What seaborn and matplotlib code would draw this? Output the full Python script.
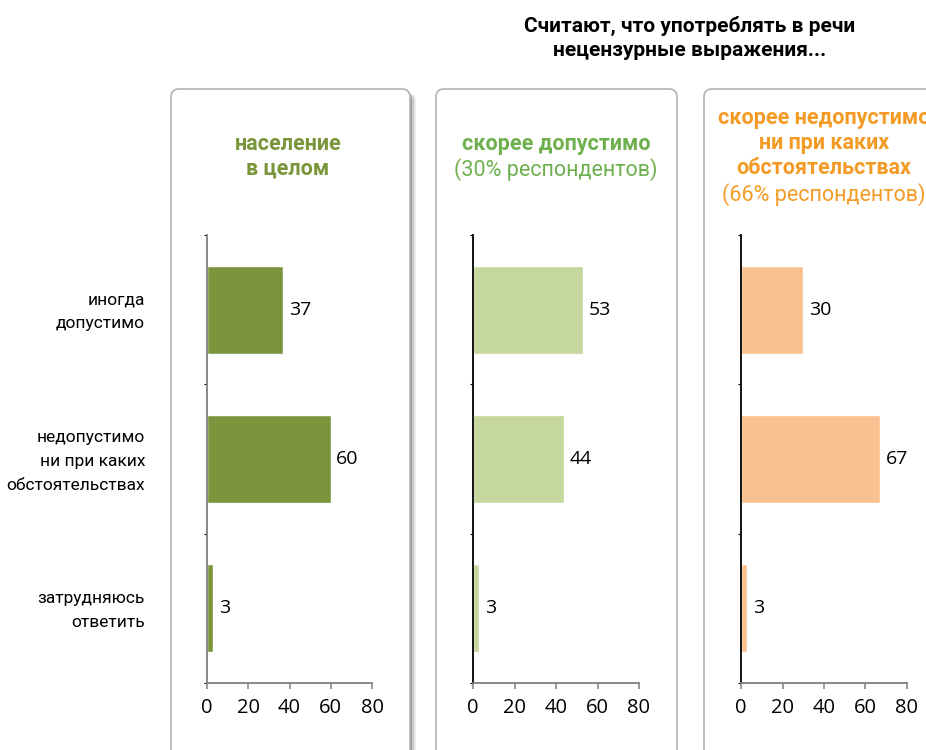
import matplotlib.pyplot as plt
import matplotlib.ticker as tck
from matplotlib.patches import FancyBboxPatch
import pandas as pd
import seaborn as sns

CATEGORIES = ["иногда\nдопустимо",
              "недопустимо\nни при каких\nобстоятельствах",
              "затрудняюсь\nответить"]
TOTAL = [37, 60, 3]
ACCEPTABLE = [53, 44, 3]
UNACCEPTABLE = [30, 67, 3]

GROUPS = ["население в целом", "скорее допустимо", "скорее недопустимо"]
BAR_COLORS = ["#7a953c", "#c5d79c", "#f9c190"]
TITLE_COLORS = ["#7a963b", "#6fb04e", "#f49b25"]

MAIN_TITLE = "Считают, что употреблять в речи\nнецензурные выражения..."

W, H = 926, 750
FONTS = ["Roboto", "DejaVu Sans"]
NUM_FONTS = ["Open Sans", "DejaVu Sans"]

sns.set_theme(style="white")
plt.rcParams["font.family"] = FONTS
plt.rcParams["text.color"] = "black"
plt.rcParams["xtick.color"] = "black"
plt.rcParams["ytick.color"] = "black"


def inch(x, y):
    # pixel coordinates from the top-left corner -> inches from bottom-left
    return x / 100, (H - y) / 100


def add_panel(fig, x0, x1, y0, y1, shadow=False):
    xa, ya = inch(x0, y1)
    w, h = (x1 - x0) / 100, (y1 - y0) / 100
    if shadow:
        for i, a in enumerate([0.08, 0.14, 0.22]):
            off = (3 - i) * 0.02
            fig.patches.append(FancyBboxPatch(
                (xa + off, ya), w, h - 0.04, boxstyle="round,pad=0,rounding_size=0.08",
                transform=fig.dpi_scale_trans, facecolor="black", alpha=a,
                edgecolor="none", zorder=0))
    fig.patches.append(FancyBboxPatch(
        (xa, ya), w, h, boxstyle="round,pad=0,rounding_size=0.08",
        transform=fig.dpi_scale_trans, facecolor="white",
        edgecolor="#b4b4b4", linewidth=1.2, zorder=0.5))


def draw_bars(ax, df, color, left_spine, show_labels):
    sns.barplot(data=df, x="value", y="category", color=color, width=0.59,
                saturation=1, ax=ax, orient="h")
    ax.bar_label(ax.containers[0], padding=4, fontsize=14, family=NUM_FONTS)
    ax.set_xlim(0, 80)
    ax.xaxis.set_major_locator(tck.MultipleLocator(20))
    ax.set_facecolor("none")
    ax.set_xlabel("")
    ax.set_ylabel("")
    sns.despine(ax=ax)
    ax.spines["left"].set_color(left_spine)
    ax.spines["left"].set_linewidth(1.3)
    ax.spines["bottom"].set_color("#808080")
    ax.spines["bottom"].set_linewidth(1.3)
    ax.tick_params(axis="x", direction="out", length=4, width=1.1,
                   color="#808080", labelsize=14.5, pad=7, bottom=True)
    for lab in ax.get_xticklabels():
        lab.set_family(NUM_FONTS)
    ax.set_yticks([-0.5, 0.5, 1.5, 2.5], minor=True)
    ax.tick_params(axis="y", which="minor", direction="out", length=2,
                   width=0.8, color="black", left=True)
    ax.tick_params(axis="y", which="major", length=0, labelleft=False)
    if show_labels:
        # category names sit 62 px left of the axis, right-aligned
        for i, name in enumerate(CATEGORIES):
            ax.annotate(name, xy=(0, i), xycoords=("axes fraction", "data"),
                        xytext=(-44.6, -1.5), textcoords="offset points",
                        ha="right", va="center", fontsize=12.5,
                        linespacing=1.75, multialignment="right")


df = pd.DataFrame({
    "category": CATEGORIES * 3,
    "value": TOTAL + ACCEPTABLE + UNACCEPTABLE,
    "group": [g for g in GROUPS for _ in CATEGORIES],
})

fig = plt.figure(figsize=(W / 100, H / 100), dpi=100)
fig.patch.set_facecolor("white")

add_panel(fig, 171, 410, 89, 770, shadow=True)
add_panel(fig, 436, 677, 89, 770)
add_panel(fig, 704, 980, 89, 770)

axes_px = [(207, 372), (473, 639), (741, 907)]
spine_colors = ["#808080", "black", "black"]
for i, (x0, x1) in enumerate(axes_px):
    ax = fig.add_axes([x0 / W, 1 - 683 / H, (x1 - x0) / W, (683 - 235) / H])
    ax.set_zorder(2)
    draw_bars(ax, df[df["group"] == GROUPS[i]], BAR_COLORS[i],
              spine_colors[i], show_labels=(i == 0))


def fig_text(x, y, s, **kw):
    fig.text(x / W, 1 - y / H, s, ha="center", va="center", **kw)


fig_text(690, 38, MAIN_TITLE, fontsize=15, fontweight="bold",
         color="black", linespacing=1.3)

fig_text(288, 156, "население\nв целом", fontsize=15.5, fontweight="bold",
         color=TITLE_COLORS[0], linespacing=1.15)

fig_text(556, 144, "скорее допустимо", fontsize=15.5, fontweight="bold",
         color=TITLE_COLORS[1])
fig_text(556, 170, "(30% респондентов)", fontsize=15.5, color=TITLE_COLORS[1])

# the first line runs past the right edge of the picture, as in the original
fig_text(824, 143, "скорее недопустимо\nни при каких\nобстоятельствах",
         fontsize=15.5, fontweight="bold", color=TITLE_COLORS[2], linespacing=1.15)
fig_text(824, 195, "(66% респондентов)", fontsize=15.5, color=TITLE_COLORS[2])

fig.savefig("out.png", dpi=100)
